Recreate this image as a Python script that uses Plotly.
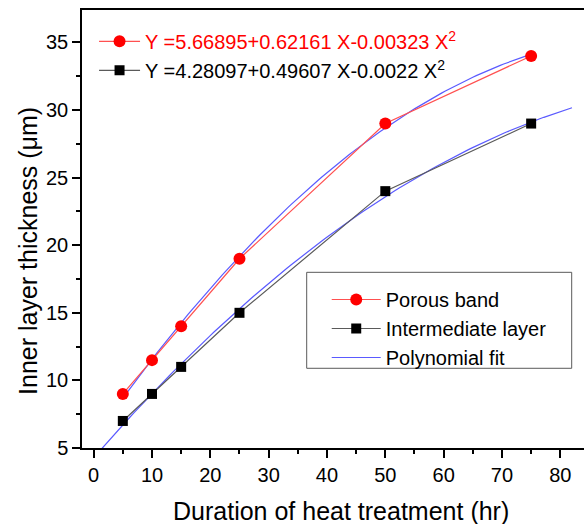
import numpy as np
import plotly.graph_objects as go

# Data
duration = [5, 10, 15, 25, 50, 75]
porous_band = [9, 11.5, 14, 19, 29, 34]
intermediate = [7, 9, 11, 15, 24, 29]

# Polynomial fit coefficients (from the chart's equations)
porous_coef = [5.66895, 0.62161, -0.00323]
inter_coef = [4.28097, 0.49607, -0.0022]
porous_fit_range = [5, 75]
inter_fit_range = [0, 82]

x_ticks = [0, 10, 20, 30, 40, 50, 60, 70, 80]
y_ticks = [5, 10, 15, 20, 25, 30, 35]

FONT = "Arial, Liberation Sans, sans-serif"
BLUE = "rgb(90,90,255)"


def poly(coef, xs):
    xs = np.asarray(xs, dtype=float)
    return coef[0] + coef[1] * xs + coef[2] * xs ** 2


xf1 = np.linspace(porous_fit_range[0], porous_fit_range[1], 120)
xf2 = np.linspace(inter_fit_range[0], inter_fit_range[1], 120)

fig = go.Figure()

# fits
fig.add_trace(go.Scatter(x=xf1, y=poly(porous_coef, xf1), mode="lines",
                         line=dict(color=BLUE, width=1.2),
                         name="Polynomial fit", legend="legend", legendrank=3))
fig.add_trace(go.Scatter(x=xf2, y=poly(inter_coef, xf2), mode="lines",
                         line=dict(color=BLUE, width=1.2),
                         name="Polynomial fit", showlegend=False))

# data
fig.add_trace(go.Scatter(x=duration, y=porous_band, mode="lines+markers",
                         line=dict(color="rgb(255,80,80)", width=1.2),
                         marker=dict(symbol="circle", size=12, color="red"),
                         name="Porous band", legend="legend", legendrank=1))
fig.add_trace(go.Scatter(x=duration, y=intermediate, mode="lines+markers",
                         line=dict(color="rgb(90,90,90)", width=1.2),
                         marker=dict(symbol="square", size=10, color="black"),
                         name="Intermediate layer", legend="legend", legendrank=2))

# equation legend entries
fig.add_trace(go.Scatter(x=[None], y=[None], mode="lines+markers",
                         line=dict(color="rgb(255,80,80)", width=1.2),
                         marker=dict(symbol="circle", size=12, color="red"),
                         name='<span style="color:red">Y =5.66895+0.62161 X-0.00323 X<sup>2</sup></span>',
                         legend="legend2"))
fig.add_trace(go.Scatter(x=[None], y=[None], mode="lines+markers",
                         line=dict(color="rgb(90,90,90)", width=1.2),
                         marker=dict(symbol="square", size=10, color="black"),
                         name="Y =4.28097+0.49607 X-0.0022 X<sup>2</sup>",
                         legend="legend2"))

fig.update_layout(
    width=584, height=524,
    margin=dict(l=82, r=0, t=10, b=76),
    plot_bgcolor="white", paper_bgcolor="white",
    font=dict(family=FONT, size=20, color="black"),
    legend=dict(
        x=0.4875, y=0.3836, xanchor="left", yanchor="top",
        borderwidth=0, bgcolor="rgba(0,0,0,0)",
        font=dict(size=20), itemwidth=49, traceorder="normal",
        tracegroupgap=0,
    ),
    legend2=dict(
        x=0.024, y=0.973, xanchor="left", yanchor="top",
        bgcolor="rgba(0,0,0,0)", borderwidth=0,
        font=dict(size=20), itemwidth=41, traceorder="normal",
    ),
    shapes=[
        dict(type="rect", xref="paper", yref="paper",
             x0=0.4476, x1=0.9755, y0=0.182, y1=0.4011,
             line=dict(color="rgb(90,90,90)", width=1), fillcolor="white", layer="above"),
    ],
    xaxis=dict(
        range=[-2, 84.06], tickvals=x_ticks, ticktext=[str(v) for v in x_ticks],
        showline=True, linecolor="black", linewidth=1.5, mirror=True,
        ticks="outside", ticklen=8, tickwidth=1.5, tickcolor="black",
        minor=dict(ticks="outside", ticklen=4, tickwidth=1.5, tickcolor="black", dtick=5, tick0=5, showgrid=False),
        showgrid=False, zeroline=False, tickfont=dict(size=20),
    ),
    yaxis=dict(
        range=[5, 37.4], tickvals=y_ticks, ticktext=[str(v) for v in y_ticks],
        showline=True, linecolor="black", linewidth=1.5, mirror=False,
        ticks="outside", ticklen=8, tickwidth=1.5, tickcolor="black",
        minor=dict(ticks="outside", ticklen=4, tickwidth=1.5, tickcolor="black", dtick=2.5, tick0=7.5, showgrid=False),
        showgrid=False, zeroline=False, tickfont=dict(size=20),
    ),
    annotations=[
        dict(text="Duration of heat treatment (hr)", xref="paper", yref="paper",
             x=0.515, y=-0.143, xanchor="center", yanchor="middle", showarrow=False,
             font=dict(size=25)),
        dict(text="Inner layer thickness (\u03bcm)", xref="paper", yref="paper",
             x=-0.1076, y=0.4498, xanchor="center", yanchor="middle", showarrow=False,
             textangle=-90, font=dict(size=25)),
    ],
)

fig.write_html("out.html", config={"displayModeBar": False},
               post_script="document.body.style.margin='0';document.body.style.padding='0';")
